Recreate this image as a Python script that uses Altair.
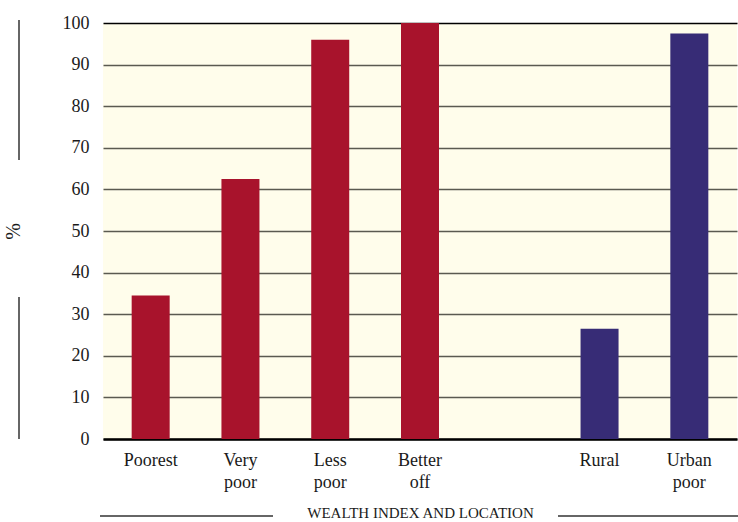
import altair as alt
import pandas as pd

# Share of the group (%) by wealth index and location
categories = ["Poorest", "Very poor", "Less poor", "Better off", "Rural", "Urban poor"]
values = [34.5, 62.5, 96.0, 100.0, 26.5, 97.5]
groups = ["wealth", "wealth", "wealth", "wealth", "location", "location"]
y_ticks = list(range(0, 101, 10))

SPACER = "_"
x_domain = categories[:4] + [SPACER] + categories[4:]

RED = "#A8132C"
NAVY = "#372C76"
FONT = "Liberation Serif"

df = pd.DataFrame({"category": categories, "value": values, "group": groups})

bars = alt.Chart(df).mark_bar(size=38).encode(
    x=alt.X(
        "category:N",
        scale=alt.Scale(domain=x_domain, paddingInner=0.578, paddingOuter=0.32),
        axis=alt.Axis(
            title="WEALTH INDEX AND LOCATION",
            labelAngle=0,
            labelExpr=f"datum.value == '{SPACER}' ? '' : split(datum.label, ' ')",
            labelFont=FONT,
            labelFontSize=18,
            labelColor="#1a1a1a",
            labelPadding=12,
            labelLineHeight=22,
            labelBaseline="top",
            ticks=False,
            domainColor="black",
            domainWidth=2.5,
            titleFont=FONT,
            titleFontSize=15,
            titleFontWeight="normal",
            titleColor="#1a1a1a",
            titlePadding=14,
        ),
    ),
    y=alt.Y(
        "value:Q",
        scale=alt.Scale(domain=[0, 100], nice=False),
        axis=alt.Axis(
            title="%",
            values=y_ticks,
            labelFont=FONT,
            labelFontSize=18,
            labelColor="#1a1a1a",
            labelPadding=14,
            ticks=False,
            domain=False,
            gridColor=alt.condition("datum.value == 100", alt.value("black"), alt.value("#5a5a50")),
            gridWidth=1.3,
            titleFont=FONT,
            titleFontSize=20,
            titleFontWeight="normal",
            titleColor="#1a1a1a",
            titleX=-80,
            titleY=208,
            titleAngle=-90,
        ),
    ),
    color=alt.Color(
        "group:N",
        scale=alt.Scale(domain=["wealth", "location"], range=[RED, NAVY]),
        legend=None,
    ),
)

# Decorative rules flanking the axis titles
one = pd.DataFrame({"k": [0]})
line_color = "#333333"
rules = [
    alt.Chart(one).mark_rule(color=line_color, strokeWidth=1.5).encode(
        x=alt.value(-84), y=alt.value(-3), y2=alt.value(137)
    ),
    alt.Chart(one).mark_rule(color=line_color, strokeWidth=1.5).encode(
        x=alt.value(-84), y=alt.value(274), y2=alt.value(416)
    ),
    alt.Chart(one).mark_rule(color=line_color, strokeWidth=1.5).encode(
        x=alt.value(-3), x2=alt.value(170), y=alt.value(493)
    ),
    alt.Chart(one).mark_rule(color=line_color, strokeWidth=1.5).encode(
        x=alt.value(455), x2=alt.value(635), y=alt.value(493)
    ),
]

chart = alt.layer(bars, *rules).properties(
    width=634,
    height=416,
    padding={"left": 103, "top": 23, "right": 1, "bottom": 83},
    autosize=alt.AutoSizeParams(type="none"),
    background="white",
).configure_view(
    fill="#FFFDEB",
    stroke=None,
)

chart.save("out.html", embed_options={"renderer": "svg", "actions": False})
